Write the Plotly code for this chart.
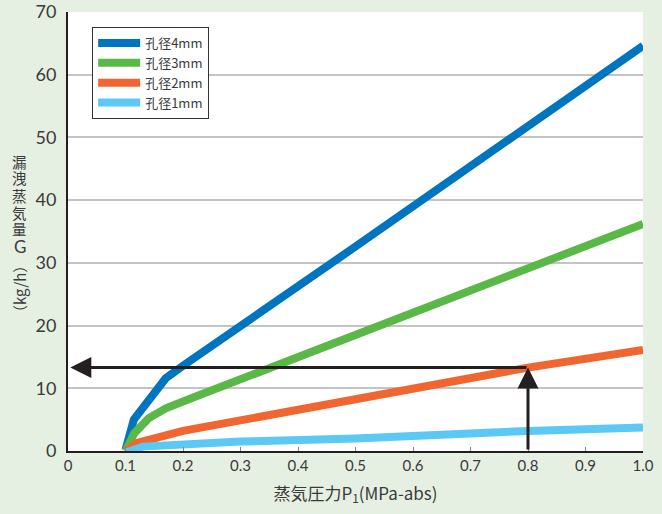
import plotly.graph_objects as go

# ---- data ----
x_4mm = [0.1, 0.1145, 0.17, 0.2, 0.5, 1.0]
y_4mm = [0.2, 5.0, 11.6, 13.6, 32.6, 64.6]

x_3mm = [0.1, 0.115, 0.14, 0.17, 0.22, 0.5, 1.0]
y_3mm = [0.0, 2.8, 5.2, 6.8, 8.6, 18.4, 36.2]

x_2mm = [0.1, 0.12, 0.2, 0.3, 0.5, 0.7, 0.8, 1.0]
y_2mm = [0.0, 1.3, 3.2, 4.9, 8.2, 11.8, 13.3, 16.1]

x_1mm = [0.1, 0.13, 0.3, 0.5, 0.8, 1.0]
y_1mm = [-0.3, 0.7, 1.5, 2.0, 3.2, 3.75]

series_names = ["孔径4mm", "孔径3mm", "孔径2mm", "孔径1mm"]
series_colors = ["#0075bf", "#5ab847", "#f06530", "#5bc9f3"]

x_tickvals = [0, 0.1, 0.2, 0.3, 0.4, 0.5, 0.6, 0.7, 0.8, 0.9, 1.0]
x_ticktext = ["0", "0.1", "0.2", "0.3", "0.4", "0.5", "0.6", "0.7", "0.8", "0.9", "1.0"]
y_tickvals = [0, 10, 20, 30, 40, 50, 60, 70]

y_title_chars = ["漏", "洩", "蒸", "気", "量", "G"]
y_title_unit = "（kg/h）"

read_x = 0.8
read_y = 13.3

BG = "#e5f0e3"
TXT = "#3a3a3a"
CJK = "Noto Sans CJK JP"
LAT = "Lato, DejaVu Sans, sans-serif"

W, H = 662, 514
ML, MR, MT, MB = 68, 19, 12, 63
pw, ph = W - ML - MR, H - MT - MB


def px_to_paper(px, py):
    return (px - ML) / pw, (H - MB - py) / ph


fig = go.Figure()
for xs, ys, name, col in zip([x_4mm, x_3mm, x_2mm, x_1mm],
                             [y_4mm, y_3mm, y_2mm, y_1mm],
                             series_names, series_colors):
    fig.add_trace(go.Scatter(x=xs, y=ys, mode="lines", name=name,
                             line=dict(color=col, width=8)))

# reading arrows
fig.add_annotation(x=read_x, y=read_y, ax=read_x, ay=0, xref="x", yref="y",
                   axref="x", ayref="y", text="", showarrow=True,
                   arrowhead=2, arrowsize=1.4, arrowwidth=3, arrowcolor="#231f20")
fig.add_annotation(x=0.004, y=read_y, ax=read_x, ay=read_y, xref="x", yref="y",
                   axref="x", ayref="y", text="", showarrow=True,
                   arrowhead=2, arrowsize=1.4, arrowwidth=3, arrowcolor="#231f20")

# vertical y-axis title: upright characters + rotated unit
for i, ch in enumerate(y_title_chars):
    cx, cy = px_to_paper(20, 161 + 17 * i)
    is_latin = ch.isascii()
    fig.add_annotation(x=cx, y=cy, xref="paper", yref="paper", text=ch,
                       showarrow=False, xanchor="center", yanchor="middle",
                       font=dict(family=LAT if is_latin else CJK,
                                 size=17 if is_latin else 14.5, color=TXT))
ux, uy = px_to_paper(20, 289)
fig.add_annotation(x=ux, y=uy, xref="paper", yref="paper", text=y_title_unit,
                   textangle=-90, showarrow=False, xanchor="center", yanchor="middle",
                   font=dict(family=CJK, size=15, color=TXT))

fig.update_layout(
    width=W, height=H,
    margin=dict(l=ML, r=MR, t=MT, b=MB, autoexpand=False),
    paper_bgcolor=BG, plot_bgcolor="white",
    font=dict(family=LAT, color=TXT),
    showlegend=True,
    legend=dict(x=0.042, y=0.966, xanchor="left", yanchor="top",
                bgcolor="white", bordercolor="#333333", borderwidth=1,
                font=dict(family=CJK, size=13, color=TXT),
                itemwidth=42, tracegroupgap=0),
    xaxis=dict(range=[0, 1.0], tickvals=x_tickvals, ticktext=x_ticktext,
               automargin=False,
               showgrid=False, zeroline=False, showline=True,
               linecolor="#231f20", linewidth=2, ticks="inside", ticklen=4,
               tickcolor="#888888", tickfont=dict(size=15, color=TXT),
               title=dict(text="蒸気圧力P<sub>1</sub>(MPa-abs)",
                          font=dict(family=CJK, size=17, color=TXT), standoff=15)),
    yaxis=dict(range=[0, 70], tickvals=y_tickvals, showgrid=True,
               automargin=False,
               gridcolor="#c4c4c4", gridwidth=1.5, zeroline=False,
               showline=True, linecolor="#231f20", linewidth=2,
               ticks="", tickfont=dict(size=18, color=TXT),
               ticklabelstandoff=6),
)

fig.write_html(
    "out.html",
    config={"displayModeBar": False},
    post_script="document.body.style.margin='0';document.body.style.overflow='hidden';"
                "document.body.style.background='" + BG + "';",
)
